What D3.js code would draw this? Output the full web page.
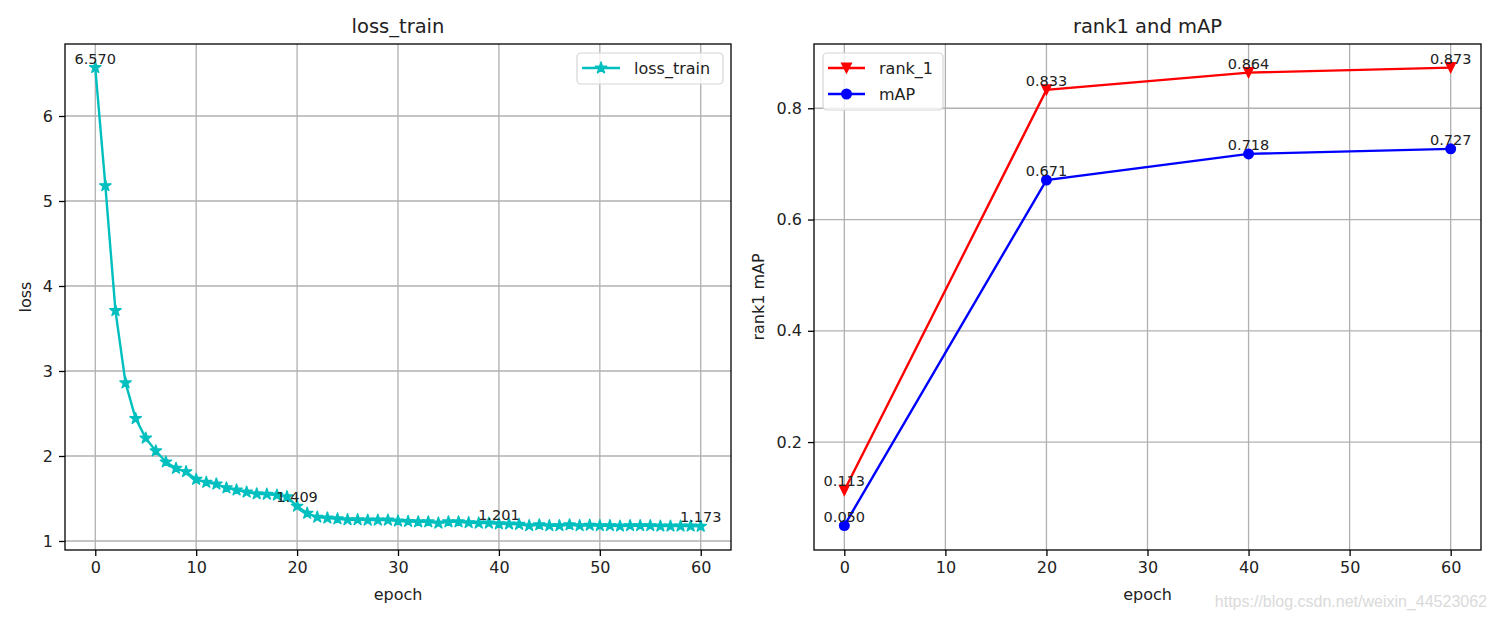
<!DOCTYPE html>
<html>
<head>
<meta charset="utf-8">
<script src="https://cdn.jsdelivr.net/npm/d3@7"></script>
<style>
  body { margin: 0; background: #fff; }
  svg { display: block; font-family: "DejaVu Sans", sans-serif; }
</style>
</head>
<body>
<svg id="chart" width="1497" height="620"></svg>
<script>
// loss per epoch, 0..60
const lossEpochs = d3.range(0, 61);
const lossValues = [
  6.570, 5.18, 3.71, 2.86, 2.44, 2.21, 2.06, 1.93, 1.855, 1.815,
  1.725, 1.69, 1.67, 1.625, 1.60, 1.575, 1.555, 1.55, 1.54, 1.52,
  1.409, 1.326, 1.28, 1.27, 1.26, 1.25, 1.25, 1.245, 1.245, 1.245,
  1.235, 1.23, 1.225, 1.225, 1.21, 1.225, 1.225, 1.215, 1.21, 1.21,
  1.201, 1.20, 1.195, 1.18, 1.19, 1.18, 1.18, 1.19, 1.18, 1.185,
  1.18, 1.18, 1.175, 1.18, 1.18, 1.18, 1.175, 1.175, 1.175, 1.175,
  1.173
];
const lossLabelEpochs = [0, 20, 40, 60];

const evalEpochs = [0, 20, 40, 60];
const rank1Values = [0.113, 0.833, 0.864, 0.873];
const mapValues = [0.050, 0.671, 0.718, 0.727];

const epochTicks = [0, 10, 20, 30, 40, 50, 60];
const lossTicksY = [1, 2, 3, 4, 5, 6];
const evalTicksY = [0.2, 0.4, 0.6, 0.8];

const svg = d3.select("#chart");
const plotTop = 44, plotBottom = 550;
const tickFont = 16, annFont = 14.5;

function panel({left, right, xDomain, yDomain, yTicks, yFmt, title, yLabel, yLabelX}) {
  const x = d3.scaleLinear(xDomain, [left, right]);
  const y = d3.scaleLinear(yDomain, [plotBottom, plotTop]);
  const g = svg.append("g");

  // grid
  g.append("g").selectAll("line").data(epochTicks).join("line")
      .attr("x1", d => x(d)).attr("x2", d => x(d))
      .attr("y1", plotTop).attr("y2", plotBottom)
      .attr("stroke", "#b0b0b0").attr("stroke-width", 1.3);
  g.append("g").selectAll("line").data(yTicks).join("line")
      .attr("x1", left).attr("x2", right)
      .attr("y1", d => y(d)).attr("y2", d => y(d))
      .attr("stroke", "#b0b0b0").attr("stroke-width", 1.3);

  // axes
  g.append("g")
      .attr("transform", `translate(0,${plotBottom})`)
      .call(d3.axisBottom(x).tickValues(epochTicks).tickSize(6).tickPadding(6).tickSizeOuter(0))
      .call(a => a.select(".domain").remove())
      .call(a => a.selectAll("text").attr("font-size", tickFont).attr("fill", "#222")
          .attr("font-family", "DejaVu Sans"))
      .call(a => a.selectAll("line").attr("stroke-width", 1.3));
  g.append("g")
      .attr("transform", `translate(${left},0)`)
      .call(d3.axisLeft(y).tickValues(yTicks).tickFormat(yFmt).tickSize(6).tickPadding(6).tickSizeOuter(0))
      .call(a => a.select(".domain").remove())
      .call(a => a.selectAll("text").attr("font-size", tickFont).attr("fill", "#222")
          .attr("font-family", "DejaVu Sans"))
      .call(a => a.selectAll("line").attr("stroke-width", 1.3));

  g.append("rect")
      .attr("x", left).attr("y", plotTop)
      .attr("width", right - left).attr("height", plotBottom - plotTop)
      .attr("fill", "none").attr("stroke", "#000").attr("stroke-width", 1.3);

  g.append("text")
      .attr("x", (left + right) / 2).attr("y", 33)
      .attr("text-anchor", "middle").attr("font-size", 19.5).attr("fill", "#222")
      .text(title);
  g.append("text")
      .attr("x", (left + right) / 2).attr("y", 600)
      .attr("text-anchor", "middle").attr("font-size", tickFont).attr("fill", "#222")
      .text("epoch");
  g.append("text")
      .attr("transform", `translate(${yLabelX},${(plotTop + plotBottom) / 2}) rotate(-90)`)
      .attr("text-anchor", "middle").attr("font-size", tickFont).attr("fill", "#222")
      .text(yLabel);

  return {g, x, y};
}

const starSym = d3.symbol(d3.symbolStar, 40);
const triPath = "M0,5L-5,-5L5,-5Z";

// ---- left: loss ----
const L = panel({
  left: 65, right: 731, xDomain: [-3, 63], yDomain: [0.894, 6.847],
  yTicks: lossTicksY, yFmt: d3.format("d"),
  title: "loss_train", yLabel: "loss", yLabelX: 31
});
const lossLine = d3.line().x((d, i) => L.x(lossEpochs[i])).y(d => L.y(d));
L.g.append("path").attr("d", lossLine(lossValues))
    .attr("fill", "none").attr("stroke", "#00bfbf").attr("stroke-width", 2.4);
L.g.append("g").selectAll("path").data(lossValues).join("path")
    .attr("d", starSym)
    .attr("transform", (d, i) => `translate(${L.x(lossEpochs[i])},${L.y(d)})`)
    .attr("fill", "#00bfbf").attr("stroke", "#00bfbf").attr("stroke-width", 1.4)
    .attr("stroke-linejoin", "round");
L.g.append("g").selectAll("text").data(lossLabelEpochs).join("text")
    .attr("x", e => L.x(e)).attr("y", e => L.y(lossValues[e]) - 4)
    .attr("text-anchor", "middle").attr("font-size", annFont).attr("fill", "#222")
    .text(e => lossValues[e].toFixed(3));

// legend left
const lg = L.g.append("g");
lg.append("rect").attr("x", 577).attr("y", 53).attr("width", 146).attr("height", 31)
    .attr("rx", 4).attr("fill", "#fff").attr("fill-opacity", 0.8)
    .attr("stroke", "#d5d5d5").attr("stroke-width", 1.2);
lg.append("line").attr("x1", 582).attr("x2", 620).attr("y1", 68).attr("y2", 68)
    .attr("stroke", "#00bfbf").attr("stroke-width", 2.4);
lg.append("path").attr("d", starSym).attr("transform", "translate(601,68)")
    .attr("fill", "#00bfbf").attr("stroke", "#00bfbf").attr("stroke-width", 1.4)
    .attr("stroke-linejoin", "round");
lg.append("text").attr("x", 634).attr("y", 74).attr("font-size", tickFont).attr("fill", "#222").text("loss_train");

// ---- right: rank1 and mAP ----
const R = panel({
  left: 814, right: 1481, xDomain: [-3, 63], yDomain: [0.006, 0.9155],
  yTicks: evalTicksY, yFmt: d3.format(".1f"),
  title: "rank1 and mAP", yLabel: "rank1 mAP", yLabelX: 764
});
const evalLine = d3.line().x((d, i) => R.x(evalEpochs[i])).y(d => R.y(d));
R.g.append("path").attr("d", evalLine(rank1Values))
    .attr("fill", "none").attr("stroke", "#ff0000").attr("stroke-width", 2.4);
R.g.append("path").attr("d", evalLine(mapValues))
    .attr("fill", "none").attr("stroke", "#0000ff").attr("stroke-width", 2.4);
R.g.append("g").selectAll("path").data(rank1Values).join("path")
    .attr("d", triPath)
    .attr("transform", (d, i) => `translate(${R.x(evalEpochs[i])},${R.y(d)})`)
    .attr("fill", "#ff0000").attr("stroke", "#ff0000").attr("stroke-width", 1.2);
R.g.append("g").selectAll("circle").data(mapValues).join("circle")
    .attr("cx", (d, i) => R.x(evalEpochs[i])).attr("cy", d => R.y(d)).attr("r", 5.5)
    .attr("fill", "#0000ff");
[rank1Values, mapValues].forEach(vals => {
  R.g.append("g").selectAll("text").data(vals).join("text")
      .attr("x", (d, i) => R.x(evalEpochs[i])).attr("y", d => R.y(d) - 4)
      .attr("text-anchor", "middle").attr("font-size", annFont).attr("fill", "#222")
      .text(d => d.toFixed(3));
});

// legend right
const rg = R.g.append("g");
rg.append("rect").attr("x", 823).attr("y", 53).attr("width", 120).attr("height", 57)
    .attr("rx", 4).attr("fill", "#fff").attr("fill-opacity", 0.8)
    .attr("stroke", "#d5d5d5").attr("stroke-width", 1.2);
rg.append("line").attr("x1", 828).attr("x2", 865).attr("y1", 68).attr("y2", 68)
    .attr("stroke", "#ff0000").attr("stroke-width", 2.4);
rg.append("path").attr("d", triPath).attr("transform", "translate(846.5,68)")
    .attr("fill", "#ff0000").attr("stroke", "#ff0000").attr("stroke-width", 1.2);
rg.append("text").attr("x", 879).attr("y", 74).attr("font-size", tickFont).attr("fill", "#222").text("rank_1");
rg.append("line").attr("x1", 828).attr("x2", 865).attr("y1", 94).attr("y2", 94)
    .attr("stroke", "#0000ff").attr("stroke-width", 2.4);
rg.append("circle").attr("cx", 846.5).attr("cy", 94).attr("r", 5.5).attr("fill", "#0000ff");
rg.append("text").attr("x", 879).attr("y", 100).attr("font-size", tickFont).attr("fill", "#222").text("mAP");

// watermark
svg.append("text").attr("x", 1487).attr("y", 607).attr("text-anchor", "end")
    .attr("font-family", "Liberation Sans, Arial, sans-serif").attr("font-size", 16)
    .attr("fill", "#dadada").text("https://blog.csdn.net/weixin_44523062");
</script>
</body>
</html>
